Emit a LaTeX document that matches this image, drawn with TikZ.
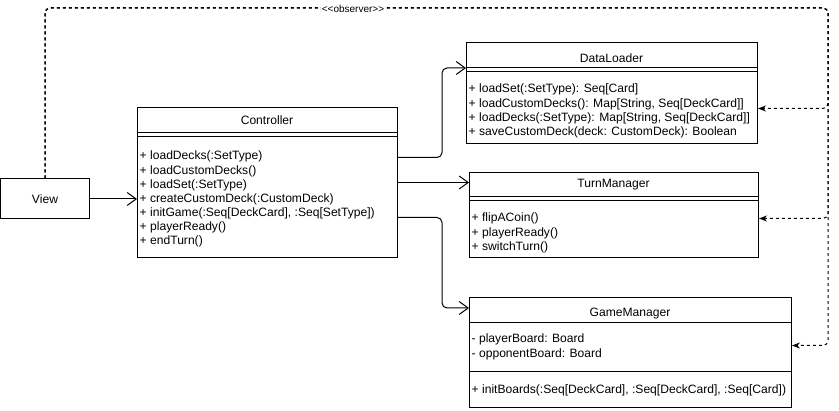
\documentclass[tikz,border=0pt]{standalone}
\usepackage{fontspec}
\setmainfont{Liberation Sans}
\usetikzlibrary{arrows.meta,calc}

\begin{document}
\begin{tikzpicture}[x=1pt,y=-1pt,
  every node/.style={font=\fontsize{12.1}{14.1}\selectfont},
  classbox/.style={draw, line width=1pt, inner sep=0pt, anchor=north west},
  classname/.style={anchor=base, inner sep=0pt},
  members/.style={anchor=north west, inner sep=0pt, align=left},
  sep/.style={line width=1pt},
  uses/.style={line width=1pt, rounded corners=5pt, -{Straight Barb[length=9pt,width=13pt]}},
  observes/.style={line width=1pt, dash pattern=on 3pt off 3pt, rounded corners=5pt,
    -{Stealth[length=8pt,width=6pt,inset=2.5pt]}},
  stereo/.style={fill=white, inner sep=1pt, font=\fontsize{10}{12}\selectfont},
]
\useasboundingbox (0,0) rectangle (839,411);

% ---- View ----
\node[draw, line width=1pt, minimum width=89, minimum height=40, inner sep=0pt] (view) at (45,199) {View};

% ---- Controller ----
\node[classbox, minimum width=260, minimum height=150] (ctrl) at (137,107) {};
\node[classname] (ctrlName) at (267,125) {Controller};
\draw[sep] ($(ctrl.north west)+(0,26)$) -- ($(ctrl.north east)+(0,26)$);
\draw[sep] ($(ctrl.north west)+(0,30)$) -- ($(ctrl.north east)+(0,30)$);
\node[members] (ctrlOps) at (139.5,151) {+ loadDecks(:SetType)\\
+ loadCustomDecks()\\
+ loadSet(:SetType)\\
+ createCustomDeck(:CustomDeck)\\
+ initGame(:Seq[DeckCard], :Seq[SetType])\\
+ playerReady()\\
+ endTurn()};

% ---- DataLoader ----
\node[classbox, minimum width=291, minimum height=101] (dl) at (466,42) {};
\node[classname] (dlName) at (611.5,63) {DataLoader};
\draw[sep] ($(dl.north west)+(0,26)$) -- ($(dl.north east)+(0,26)$);
\draw[sep] ($(dl.north west)+(0,30)$) -- ($(dl.north east)+(0,30)$);
\node[members] (dlOps) at (468.5,84) {+ loadSet(:SetType): Seq[Card]\\
+ loadCustomDecks(): Map[String, Seq[DeckCard]]\\
+ loadDecks(:SetType): Map[String, Seq[DeckCard]]\\
+ saveCustomDeck(deck: CustomDeck): Boolean};

% ---- TurnManager ----
\node[classbox, minimum width=289, minimum height=85] (tm) at (469,172) {};
\node[classname] (tmName) at (613.5,188) {TurnManager};
\draw[sep] ($(tm.north west)+(0,25)$) -- ($(tm.north east)+(0,25)$);
\draw[sep] ($(tm.north west)+(0,29)$) -- ($(tm.north east)+(0,29)$);
\node[members] (tmOps) at (471.5,213) {+ flipACoin()\\
+ playerReady()\\
+ switchTurn()};

% ---- GameManager ----
\node[classbox, minimum width=322, minimum height=110] (gm) at (469,297) {};
\node[classname] (gmName) at (630,317) {GameManager};
\draw[sep] ($(gm.north west)+(0,26)$) -- ($(gm.north east)+(0,26)$);
\draw[sep] ($(gm.north west)+(0,75)$) -- ($(gm.north east)+(0,75)$);
\node[members] (gmAttrs) at (471.5,334) {- playerBoard: Board\\
- opponentBoard: Board};
\node[members] (gmOps) at (471.5,385) {+ initBoards(:Seq[DeckCard], :Seq[DeckCard], :Seq[Card])};

% ---- associations ----
\draw[uses] (view.east) -- (view.east -| ctrl.west);
\draw[uses] ($(ctrl.east)+(0,-25)$) -- ++(44,0) |- ($(dl.north west)+(0,26)$);
\draw[uses] (ctrl.east) -- (ctrl.east -| tm.west);
\draw[uses] ($(ctrl.east)+(0,35)$) -- ++(44,0) |- ($(gm.north west)+(0,11)$);

% ---- observer links ----
\coordinate (rail) at (828,8);
\draw[observes] (view.north) |- (rail) |- ($(dl.east)+(0,15.5)$);
\draw[observes] (view.north) |- (rail) |- ($(tm.east)+(0,3.5)$);
\draw[observes] (view.north) |- (rail) |- ($(gm.east)+(0,-7)$);
\node[stereo] (obsLabel) at (353,9) {<\kern0pt<observer>\kern0pt>};
\end{tikzpicture}
\end{document}
